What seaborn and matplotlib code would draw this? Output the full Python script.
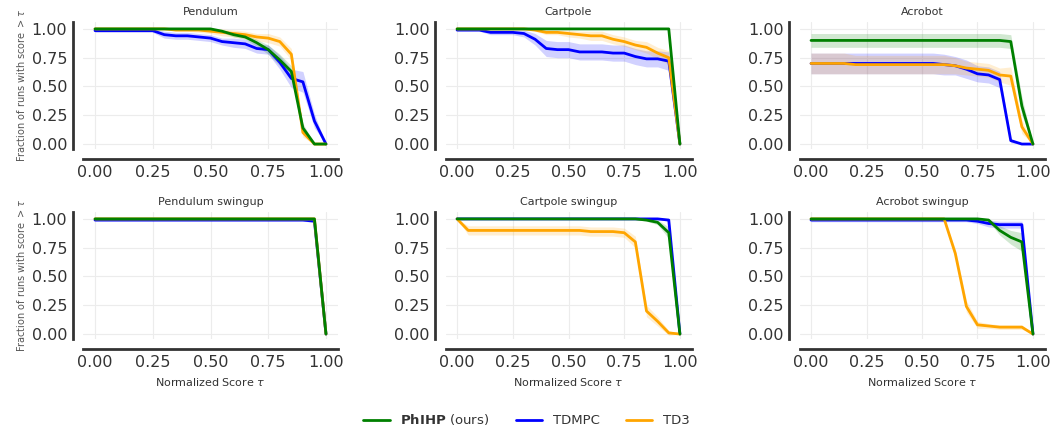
import numpy as np
import pandas as pd
import matplotlib
matplotlib.use("Agg")
import matplotlib.pyplot as plt
from matplotlib.lines import Line2D
import seaborn as sns

# ---------------- data ----------------
tau = [0.0, 0.05, 0.1, 0.15, 0.2, 0.25, 0.3, 0.35, 0.4, 0.45, 0.5,
       0.55, 0.6, 0.65, 0.7, 0.75, 0.8, 0.85, 0.9, 0.95, 1.0]

titles = ["Pendulum", "Cartpole", "Acrobot",
          "Pendulum swingup", "Cartpole swingup", "Acrobot swingup"]

algos = ["PhIHP", "TDMPC", "TD3"]
colors = {"PhIHP": "green", "TDMPC": "blue", "TD3": "orange"}
legend_labels = [r"$\bf{PhIHP}$ (ours)", "TDMPC", "TD3"]
xtick_labels = ["0.00", "0.25", "0.50", "0.75", "1.00"]
ytick_labels = ["0.00", "0.25", "0.50", "0.75", "1.00"]

# Pendulum
pend_phihp = [1, 1, 1, 1, 1, 1, 1, 1, 1, 1, 1, 0.98, 0.95, 0.93, 0.88, 0.82, 0.73, 0.63, 0.14, 0.0, 0.0]
pend_phihp_err = [0, 0, 0, 0, 0, 0, 0, 0, 0, 0, 0.01, 0.01, 0.02, 0.02, 0.03, 0.04, 0.05, 0.05, 0.04, 0, 0]
pend_tdmpc = [0.985, 0.985, 0.985, 0.985, 0.985, 0.985, 0.95, 0.94, 0.94, 0.93, 0.92, 0.89, 0.88, 0.87, 0.83, 0.82, 0.71, 0.57, 0.54, 0.2, 0.0]
pend_tdmpc_err = [0.015, 0.015, 0.015, 0.015, 0.015, 0.015, 0.03, 0.03, 0.03, 0.03, 0.03, 0.03, 0.04, 0.04, 0.04, 0.04, 0.06, 0.08, 0.09, 0.06, 0]
pend_td3 = [1, 1, 1, 1, 1, 1, 1, 0.99, 0.99, 0.99, 0.98, 0.97, 0.96, 0.95, 0.93, 0.92, 0.89, 0.78, 0.1, 0.0, 0.0]
pend_td3_err = [0, 0, 0, 0, 0, 0, 0, 0.01, 0.01, 0.02, 0.02, 0.03, 0.03, 0.03, 0.03, 0.04, 0.04, 0.05, 0.04, 0, 0]

# Cartpole
cart_phihp = [1, 1, 1, 1, 1, 1, 1, 1, 1, 1, 1, 1, 1, 1, 1, 1, 1, 1, 1, 1, 0.0]
cart_phihp_err = [0] * 21
cart_tdmpc = [0.99, 0.99, 0.99, 0.97, 0.97, 0.97, 0.96, 0.91, 0.83, 0.82, 0.82, 0.80, 0.80, 0.80, 0.79, 0.79, 0.76, 0.74, 0.74, 0.72, 0.0]
cart_tdmpc_err = [0.01, 0.01, 0.01, 0.02, 0.02, 0.02, 0.03, 0.05, 0.07, 0.07, 0.07, 0.07, 0.07, 0.07, 0.07, 0.07, 0.07, 0.07, 0.07, 0.08, 0]
cart_td3 = [1, 1, 1, 1, 1, 1, 1, 0.99, 0.97, 0.97, 0.96, 0.95, 0.94, 0.94, 0.91, 0.89, 0.86, 0.84, 0.79, 0.75, 0.0]
cart_td3_err = [0, 0, 0, 0, 0, 0, 0, 0.01, 0.02, 0.02, 0.03, 0.03, 0.04, 0.04, 0.04, 0.04, 0.04, 0.05, 0.05, 0.06, 0]

# Acrobot
acro_phihp = [0.9] * 18 + [0.89, 0.33, 0.0]
acro_phihp_err = [0.06] * 19 + [0.08, 0]
acro_tdmpc = [0.70] * 12 + [0.69, 0.68, 0.65, 0.61, 0.60, 0.56, 0.03, 0.0, 0.0]
acro_tdmpc_err = [0.09] * 12 + [0.09, 0.08, 0.08, 0.07, 0.07, 0.07, 0.02, 0, 0]
acro_td3 = [0.70] * 4 + [0.69] * 9 + [0.68, 0.66, 0.65, 0.64, 0.60, 0.59, 0.15, 0.0]
acro_td3_err = [0.09] * 4 + [0.08] * 9 + [0.07, 0.06, 0.06, 0.06, 0.06, 0.08, 0.06, 0]

# Pendulum swingup
pswing_phihp = [1] * 20 + [0.0]
pswing_phihp_err = [0] * 21
pswing_tdmpc = [0.99] * 19 + [0.98, 0.0]
pswing_tdmpc_err = [0.01] * 20 + [0]
pswing_td3 = [1] * 20 + [0.0]
pswing_td3_err = [0] * 21

# Cartpole swingup
cswing_phihp = [1] * 17 + [0.99, 0.97, 0.88, 0.0]
cswing_phihp_err = [0] * 16 + [0.005, 0.01, 0.02, 0.05, 0]
cswing_tdmpc = [1] * 19 + [0.99, 0.0]
cswing_tdmpc_err = [0] * 18 + [0.005, 0.01, 0]
cswing_td3 = [1.0] + [0.90] * 11 + [0.89, 0.89, 0.89, 0.88, 0.80, 0.20, 0.11, 0.01, 0.0]
cswing_td3_err = [0] + [0.04] * 11 + [0.04, 0.04, 0.04, 0.04, 0.05, 0.05, 0.04, 0.02, 0]

# Acrobot swingup
aswing_phihp = [1] * 16 + [0.99, 0.90, 0.84, 0.80, 0.0]
aswing_phihp_err = [0] * 16 + [0.01, 0.04, 0.06, 0.08, 0]
aswing_tdmpc = [0.99] * 15 + [0.98, 0.96, 0.95, 0.95, 0.95, 0.0]
aswing_tdmpc_err = [0.015] * 15 + [0.02, 0.03, 0.03, 0.03, 0.03, 0]
aswing_td3 = [1] * 13 + [0.70, 0.24, 0.08, 0.07, 0.06, 0.06, 0.06, 0.0]
aswing_td3_err = [0] * 13 + [0.04, 0.05, 0.03, 0.02, 0.02, 0.02, 0.02, 0]

panels = [
    {"PhIHP": (pend_phihp, pend_phihp_err), "TDMPC": (pend_tdmpc, pend_tdmpc_err), "TD3": (pend_td3, pend_td3_err)},
    {"PhIHP": (cart_phihp, cart_phihp_err), "TDMPC": (cart_tdmpc, cart_tdmpc_err), "TD3": (cart_td3, cart_td3_err)},
    {"PhIHP": (acro_phihp, acro_phihp_err), "TDMPC": (acro_tdmpc, acro_tdmpc_err), "TD3": (acro_td3, acro_td3_err)},
    {"PhIHP": (pswing_phihp, pswing_phihp_err), "TDMPC": (pswing_tdmpc, pswing_tdmpc_err), "TD3": (pswing_td3, pswing_td3_err)},
    {"PhIHP": (cswing_phihp, cswing_phihp_err), "TDMPC": (cswing_tdmpc, cswing_tdmpc_err), "TD3": (cswing_td3, cswing_td3_err)},
    {"PhIHP": (aswing_phihp, aswing_phihp_err), "TDMPC": (aswing_tdmpc, aswing_tdmpc_err), "TD3": (aswing_td3, aswing_td3_err)},
]

# ---------------- styling ----------------
sns.set_style("white")
plt.rcParams["font.family"] = ["DejaVu Sans"]
plt.rcParams["mathtext.fontset"] = "dejavusans"

fig = plt.figure(figsize=(10.53, 4.37), dpi=100)
W, H = 1053.0, 437.0
col_px = [(83, 255), (445.5, 246), (799.5, 245)]
row_px = [(22, 149), (212, 339)]

draw_order = ["TDMPC", "TD3", "PhIHP"]
text_col = "#333333"
spine_col = "#333333"

for i, (title, pdata) in enumerate(zip(titles, panels)):
    r, c = divmod(i, 3)
    x0, w = col_px[c]
    top, bot = row_px[r]
    ax = fig.add_axes([x0 / W, 1 - bot / H, w / W, (bot - top) / H])

    rows = []
    for a in draw_order:
        vals, _ = pdata[a]
        for t, v in zip(tau, vals):
            rows.append({"tau": t, "frac": v, "algo": a})
    df = pd.DataFrame(rows)
    sns.lineplot(data=df, x="tau", y="frac", hue="algo", hue_order=draw_order,
                 palette=colors, linewidth=2.0, legend=False, ax=ax, errorbar=None)
    for a in draw_order:
        vals, err = pdata[a]
        v = np.array(vals, dtype=float)
        e = np.array(err, dtype=float)
        ax.fill_between(tau, v - e, np.minimum(v + e, 1.03), color=colors[a], alpha=0.18, linewidth=0)

    ax.set_xlim(-0.052, 1.052)
    ax.set_ylim(-0.043, 1.06)
    ax.set_xticks([0, 0.25, 0.5, 0.75, 1.0])
    ax.set_xticklabels(xtick_labels)
    ax.set_yticks([0, 0.25, 0.5, 0.75, 1.0])
    ax.set_yticklabels(ytick_labels)
    ax.tick_params(axis="both", length=0, labelsize=11.5, labelcolor=text_col, pad=4)
    ax.grid(True, color="#ececec", linewidth=0.8)
    ax.set_axisbelow(True)
    for s in ["top", "right"]:
        ax.spines[s].set_visible(False)
    for s in ["left", "bottom"]:
        ax.spines[s].set_visible(True)
        ax.spines[s].set_position(("outward", 7.5))
        ax.spines[s].set_linewidth(2.0)
        ax.spines[s].set_color(spine_col)
    ax.set_title(title, fontsize=8, color=text_col, pad=5)
    if c == 0:
        ax.set_ylabel(r"Fraction of runs with score $>\tau$", fontsize=7, color="#555555", labelpad=3)
    else:
        ax.set_ylabel("")
    if r == 1:
        ax.set_xlabel(r"Normalized Score $\tau$", fontsize=8, color=text_col, labelpad=4)
    else:
        ax.set_xlabel("")

handles = [Line2D([0], [0], color=colors[a], lw=2.0) for a in algos]
leg = fig.legend(handles, legend_labels, loc="lower center", bbox_to_anchor=(0.5, -0.005),
                 ncol=3, frameon=False, fontsize=9.5, columnspacing=2.0, handlelength=2.0,
                 handletextpad=0.8)
for t in leg.get_texts():
    t.set_color(text_col)

fig.savefig("out.png", dpi=100)
